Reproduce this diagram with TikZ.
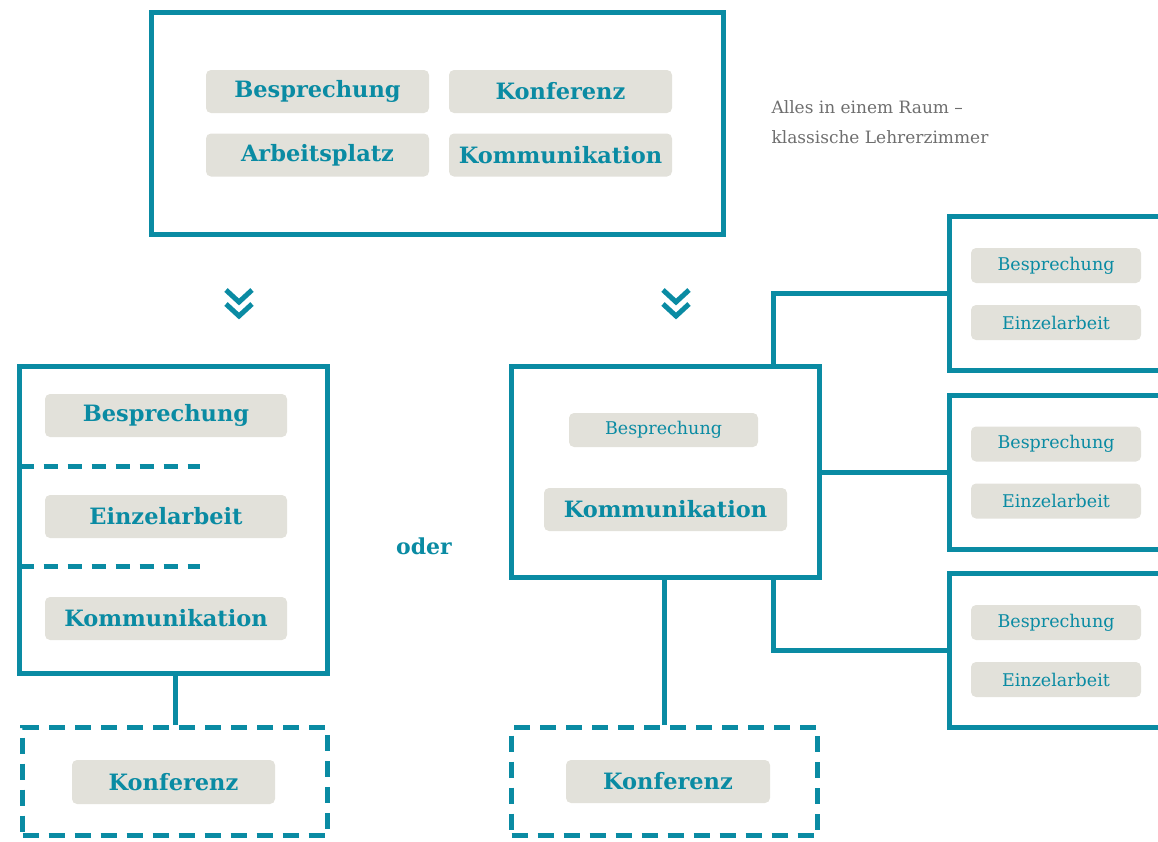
\documentclass[tikz,border=0pt]{standalone}
\usepackage{fontspec}
\setmainfont{DejaVu Serif}
\usetikzlibrary{positioning}
\definecolor{petrol}{HTML}{0A8BA3}
\definecolor{pill}{HTML}{E2E1DA}
\definecolor{note}{HTML}{6E6E6E}

\begin{document}
\begin{tikzpicture}[x=1pt,y=-1pt,
    frame/.style 2 args={draw=petrol,line width=5pt,inner sep=0pt,
      minimum width=#1,minimum height=#2},
    dframe/.style 2 args={frame={#1}{#2},dash pattern=on 16pt off 10pt},
    tag/.style 2 args={fill=pill,rounded corners=5pt,text=petrol,inner sep=0pt,
      minimum width=#1,minimum height=#2},
    big/.style={font=\bfseries\fontsize{22.5}{26}\selectfont},
    small/.style={font=\fontsize{17.5}{20}\selectfont},
    link/.style={draw=petrol,line width=5pt},
    divider/.style={draw=petrol,line width=5pt,dash pattern=on 14pt off 10pt}]
  \useasboundingbox (0,0) rectangle (1158,841);
  % alles in einem raum
  \node[frame={572}{222}] (top) at (437.5,123.5) {};
  \node[tag={223}{43},big] (tb1) at (317.5,91.5) {Besprechung};
  \node[tag={223}{43},big] (tk1) at (560.5,91.5) {Konferenz};
  \node[tag={223}{43},big] (ta1) at (317.5,155) {Arbeitsplatz};
  \node[tag={223}{43},big] (tm1) at (560.5,155) {Kommunikation};
  \node[text=note,anchor=north west,align=left,
    font=\fontsize{17}{30}\selectfont] (note) at (768,97)
    {Alles in einem Raum –\\klassische Lehrerzimmer};
  \foreach \x in {239,676}{
    \foreach \y in {290,304}{
      \draw[petrol,line width=5pt] (\x-13,\y) -- (\x,\y+12) -- (\x+13,\y);}}
  % links: getrennte bereiche
  \node[frame={308}{307}] (lbox) at (173.5,520) {};
  \node[tag={242}{43},big] (lb) at (166,415.5) {Besprechung};
  \node[tag={242}{43},big] (le) at (166,516.5) {Einzelarbeit};
  \node[tag={242}{43},big] (lm) at (166,618.5) {Kommunikation};
  \foreach \y in {466,566}{
    \draw[divider] (19.5,\y) -- (200,\y);}
  \node[dframe={305}{108}] (ldash) at (175,781.5) {};
  \node[tag={203}{44},big] (lk) at (173.5,782) {Konferenz};
  \draw[link] (ldash.north) -- (ldash.north |- lbox.south);
  \node[petrol,font=\bfseries\fontsize{22}{26}\selectfont] (oder) at (424,546) {oder};
  % rechts: zentrale kommunikation
  \node[frame={308}{211}] (mbox) at (665.5,472) {};
  \node[tag={189}{34},small] (mb) at (663.5,430) {Besprechung};
  \node[tag={243}{43},big] (mm) at (665.5,509.5) {Kommunikation};
  \node[dframe={306}{108}] (mdash) at (664.5,781.5) {};
  \node[tag={204}{43},big] (mk) at (668,781.5) {Konferenz};
  \draw[link] (mdash.north) -- (mdash.north |- mbox.south);
  \foreach \n/\y in {1/293.5,2/472,3/650.5}{
    \node[frame={250}{154}] (rbox\n) at (1074.5,\y) {};
    \node[tag={170}{35},small] (rb\n) at (1056,\y-28) {Besprechung};
    \node[tag={170}{35},small] (re\n) at (1056,\y+29) {Einzelarbeit};}
  \coordinate (uptap) at (773,366.5);
  \coordinate (downtap) at (773,577.5);
  \draw[link] (uptap) |- (rbox1.west);
  \draw[link] (mbox.east) -- (rbox2.west);
  \draw[link] (downtap) |- (rbox3.west);
\end{tikzpicture}
\end{document}
